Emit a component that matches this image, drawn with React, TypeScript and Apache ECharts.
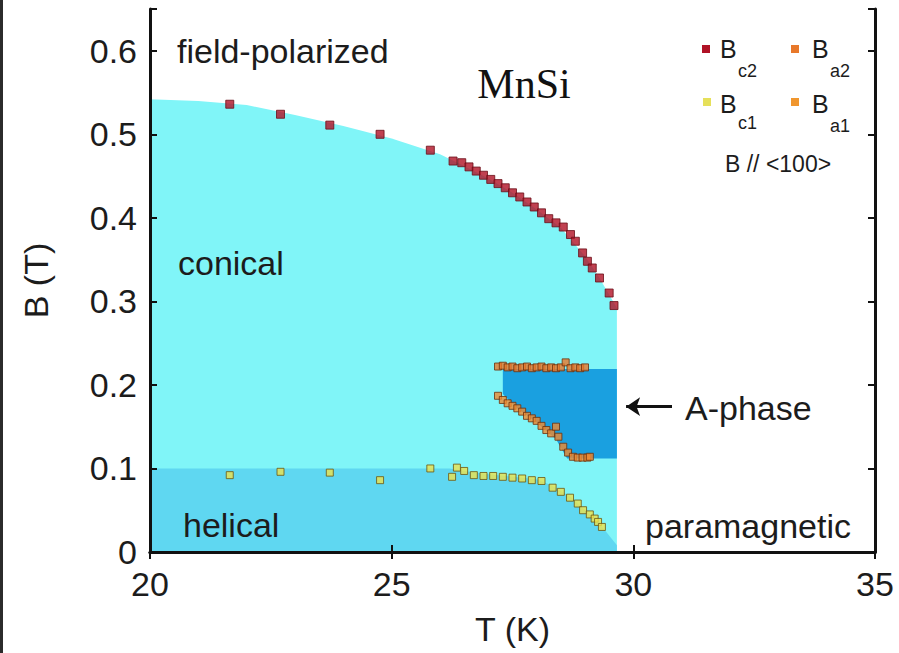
import React, { useEffect, useRef } from "react";
import * as echarts from "echarts";

// ---- data ----
const X_TICKS = [20, 25, 30, 35];
const Y_TICKS = [0, 0.1, 0.2, 0.3, 0.4, 0.5, 0.6];

// B_c2 (red)
const BC2_T = [21.65, 22.7, 23.72, 24.76, 25.8, 26.27, 26.45, 26.6, 26.75, 26.9, 27.05, 27.2, 27.35, 27.5, 27.65, 27.8, 27.95, 28.1, 28.25, 28.4, 28.55, 28.7, 28.8, 28.95, 29.05, 29.15, 29.3, 29.5, 29.6];
const BC2_B = [0.536, 0.524, 0.511, 0.5, 0.481, 0.468, 0.466, 0.461, 0.456, 0.451, 0.446, 0.441, 0.436, 0.43, 0.425, 0.419, 0.413, 0.406, 0.399, 0.394, 0.389, 0.38, 0.372, 0.358, 0.348, 0.34, 0.328, 0.31, 0.295];

// B_a2 (orange, upper A-phase boundary)
const BA2_T = [27.2, 27.3, 27.4, 27.5, 27.6, 27.7, 27.8, 27.9, 28.0, 28.1, 28.2, 28.3, 28.4, 28.5, 28.6, 28.7, 28.8, 28.9, 29.0];
const BA2_B = [0.222, 0.223, 0.221, 0.222, 0.22, 0.221, 0.222, 0.22, 0.221, 0.222, 0.22, 0.221, 0.22, 0.221, 0.227, 0.22, 0.221, 0.22, 0.221];

// B_a1 (orange, lower A-phase boundary)
const BA1_T = [27.2, 27.3, 27.4, 27.5, 27.6, 27.7, 27.8, 27.9, 28.0, 28.1, 28.2, 28.3, 28.4, 28.45, 28.55, 28.65, 28.75, 28.85, 28.95, 29.05, 29.1];
const BA1_B = [0.187, 0.182, 0.178, 0.175, 0.172, 0.168, 0.163, 0.16, 0.157, 0.151, 0.146, 0.142, 0.15, 0.138, 0.126, 0.119, 0.114, 0.113, 0.113, 0.113, 0.114];

// B_c1 (yellow)
const BC1_T = [21.65, 22.7, 23.72, 24.76, 25.8, 26.25, 26.35, 26.5, 26.7, 26.9, 27.1, 27.3, 27.5, 27.7, 27.9, 28.1, 28.33, 28.5, 28.69, 28.85, 28.96, 29.1, 29.2, 29.27, 29.35];
const BC1_B = [0.092, 0.096, 0.095, 0.086, 0.1, 0.09, 0.101, 0.097, 0.092, 0.091, 0.091, 0.09, 0.089, 0.088, 0.086, 0.085, 0.077, 0.072, 0.065, 0.058, 0.05, 0.045, 0.04, 0.036, 0.03];

// phase boundaries
const CONICAL_T = [20, 21, 22, 23, 24, 25, 26, 26.5, 27, 27.5, 28, 28.5, 29, 29.3, 29.66, 29.66, 20];
const CONICAL_B = [0.542, 0.54, 0.535, 0.523, 0.51, 0.495, 0.476, 0.462, 0.447, 0.43, 0.41, 0.388, 0.354, 0.328, 0.292, 0, 0];
const HELICAL_T = [20, 20, 26.2, 26.5, 27, 27.5, 28, 28.3, 28.7, 29.0, 29.3, 29.66, 29.66];
const HELICAL_B = [0, 0.1, 0.1, 0.097, 0.093, 0.09, 0.087, 0.08, 0.066, 0.05, 0.034, 0.008, 0];
const APHASE_T = [27.3, 29.66, 29.66, 28.63, 28.4, 28.0, 27.6, 27.3];
const APHASE_B = [0.219, 0.219, 0.112, 0.112, 0.135, 0.155, 0.172, 0.189];

const zip = (a: number[], b: number[]) => a.map((v, i) => [v, b[i]]);

const FONT = "'Liberation Sans', Arial, Helvetica, sans-serif";
const TXT = "#1c1c1c";

export default function App() {
  const ref = useRef<HTMLDivElement>(null);
  useEffect(() => {
    if (!ref.current) return;
    const chart = echarts.init(ref.current, undefined, { renderer: "svg" });

    const poly = (name: string, pts: number[][], color: string) => ({
      type: "custom",
      name,
      silent: true,
      z: 1,
      data: [[20, 0]],
      renderItem: (_p: any, api: any) => ({
        type: "polygon",
        shape: { points: pts.map((p) => api.coord(p)) },
        style: { fill: color },
      }),
    });

    const scatter = (name: string, data: number[][], color: string, border: string, size: number) => ({
      type: "scatter",
      name,
      z: 5,
      symbol: "rect",
      symbolSize: size,
      data,
      itemStyle: { color, borderColor: border, borderWidth: 1 },
    });

    const labelFmt = (v: number) => (Y_TICKS.some((t) => Math.abs(t - v) < 1e-6) ? String(Math.round(v * 10) / 10) : "");
    const xFmt = (v: number) => (X_TICKS.includes(v) ? String(v) : "");

    const axisLine = { show: true, lineStyle: { color: "#111", width: 3 } };
    const axisTick = { show: true, inside: true, length: 7, lineStyle: { color: "#111", width: 2 } };

    const text = (t: string, x: number, y: number, size: number, extra: any = {}) => ({
      type: "text",
      x,
      y,
      z: 50,
      style: {
        text: t,
        fontSize: size,
        fontFamily: FONT,
        fill: TXT,
        verticalAlign: "middle",
        align: "left",
        ...extra,
      },
    });

    const option: any = {
      animation: false,
      backgroundColor: "#ffffff",
      grid: { left: 150, right: 24, top: 9, bottom: 101 },
      xAxis: [
        {
          type: "value",
          min: 20,
          max: 35,
          interval: 5,
          name: "T (K)",
          nameLocation: "middle",
          nameGap: 60,
          nameTextStyle: { fontSize: 34, fontFamily: FONT, color: TXT },
          axisLine,
          axisTick,
          splitLine: { show: false },
          axisLabel: { fontSize: 34, fontFamily: FONT, color: TXT, margin: 15, formatter: xFmt },
          z: 10,
        },
        {
          type: "value",
          position: "top",
          min: 20,
          max: 35,
          interval: 5,
          axisLine,
          axisTick,
          splitLine: { show: false },
          axisLabel: { show: false },
          z: 10,
        },
      ],
      yAxis: [
        {
          type: "value",
          min: 0,
          max: 0.65,
          interval: 0.1,
          name: "B (T)",
          nameLocation: "middle",
          nameRotate: 90,
          nameGap: 97,
          nameTextStyle: { fontSize: 34, fontFamily: FONT, color: TXT },
          axisLine,
          axisTick,
          splitLine: { show: false },
          axisLabel: { fontSize: 34, fontFamily: FONT, color: TXT, margin: 13, formatter: labelFmt },
          z: 10,
        },
        {
          type: "value",
          position: "right",
          min: 0,
          max: 0.65,
          interval: 0.1,
          axisLine,
          axisTick,
          splitLine: { show: false },
          axisLabel: { show: false },
          z: 10,
        },
      ],
      series: [
        poly("conical", zip(CONICAL_T, CONICAL_B), "#80f5f8"),
        poly("helical", zip(HELICAL_T, HELICAL_B), "#5fd7f1"),
        poly("A-phase", zip(APHASE_T, APHASE_B), "#1aa0e0"),
        scatter("Bc2", zip(BC2_T, BC2_B), "#b01226", "#6a0e18", 8),
        scatter("Bc1", zip(BC1_T, BC1_B), "#eee24c", "#6b5612", 7),
        scatter("Ba2", zip(BA2_T, BA2_B), "#e8782a", "#6a300c", 7),
        scatter("Ba1", zip(BA1_T, BA1_B), "#f08a30", "#6a300c", 7),
        {
          type: "line",
          name: "arrow",
          data: [],
          silent: true,
          markLine: {
            silent: true,
            symbol: ["none", "arrow"],
            symbolSize: [14, 14],
            label: { show: false },
            lineStyle: { color: "#111", width: 3, type: "solid" },
            data: [[{ coord: [30.8, 0.174] }, { coord: [29.85, 0.174] }]],
          },
        },
      ],
      graphic: [
        { type: "rect", shape: { x: 0, y: 0, width: 3, height: 653 }, style: { fill: "#2b2b2b" }, z: 60 },
        text("field-polarized", 177, 51, 34),
        text("MnSi", 524, 84, 42, { fontFamily: "'Liberation Serif', 'Times New Roman', serif", align: "center", fill: "#111" }),
        text("conical", 178, 263, 34),
        text("helical", 183, 525, 34),
        text("paramagnetic", 645, 526, 34),
        text("A-phase", 685, 408, 34),
        text("B // <100>", 725, 164, 23),
        // legend
        { type: "rect", shape: { x: 702, y: 45, width: 8, height: 8 }, style: { fill: "#b01226" }, z: 50 },
        text("B", 720, 49, 25),
        text("c2", 738, 71, 18),
        { type: "rect", shape: { x: 791, y: 45, width: 8, height: 8 }, style: { fill: "#e8782a" }, z: 50 },
        text("B", 812, 49, 25),
        text("a2", 830, 71, 18),
        { type: "rect", shape: { x: 703, y: 98, width: 8, height: 8 }, style: { fill: "#e6e05a" }, z: 50 },
        text("B", 720, 104, 25),
        text("c1", 738, 123, 18),
        { type: "rect", shape: { x: 791, y: 98, width: 8, height: 8 }, style: { fill: "#f0962e" }, z: 50 },
        text("B", 812, 104, 25),
        text("a1", 830, 126, 18),
      ],
    };

    chart.setOption(option);
    return () => chart.dispose();
  }, []);

  return (
    <div
      ref={ref}
      style={{ position: "fixed", left: 0, top: 0, width: 899, height: 653, background: "#fff" }}
    />
  );
}
